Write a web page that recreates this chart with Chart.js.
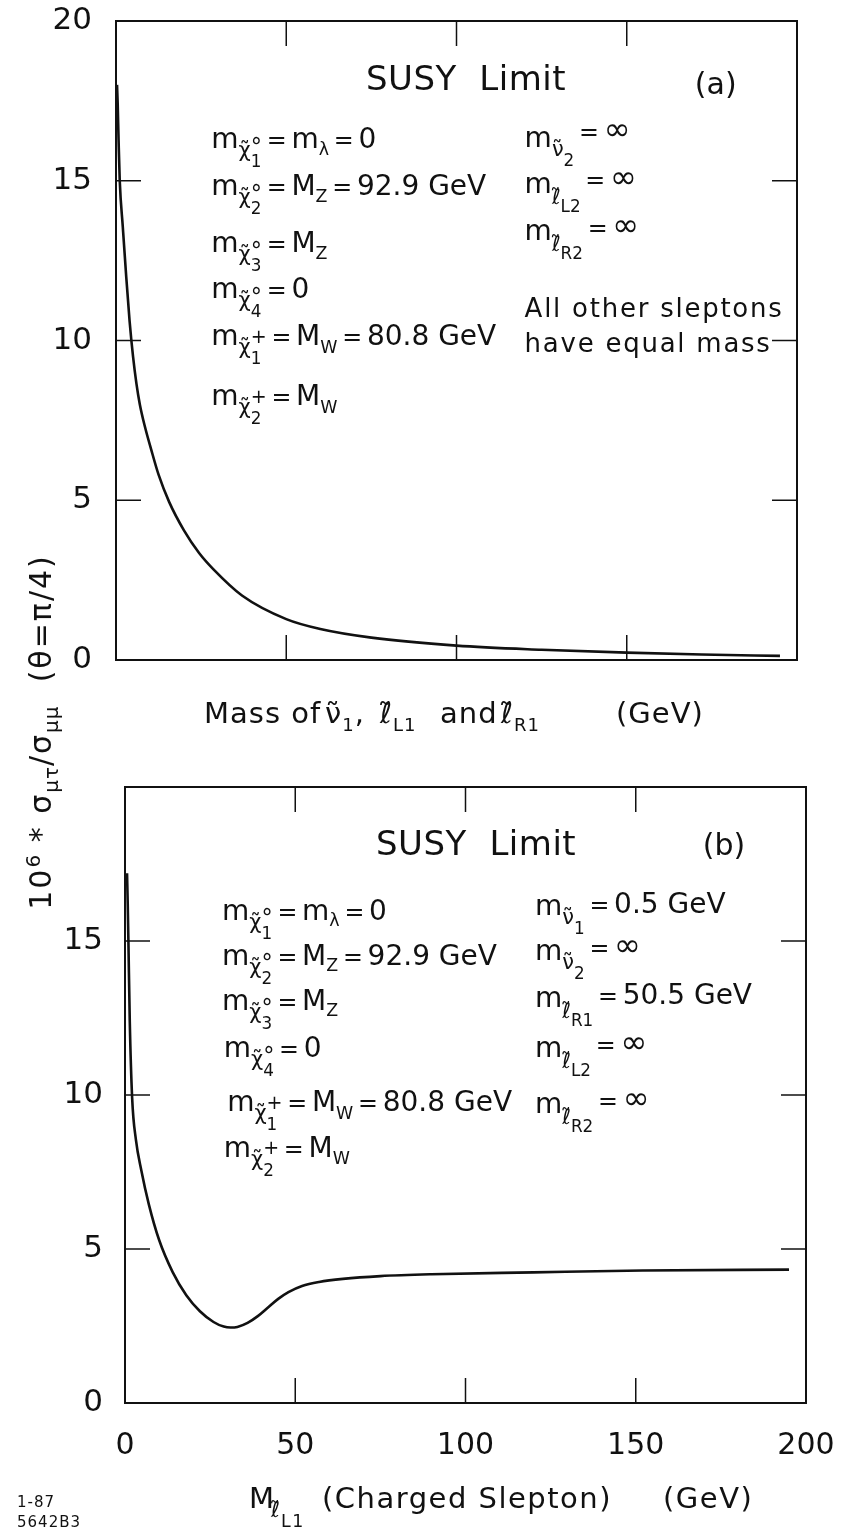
<!DOCTYPE html>
<html>
<head>
<meta charset="utf-8">
<script src="https://cdn.jsdelivr.net/npm/chart.js@4.4.1/dist/chart.umd.min.js"></script>
<style>
html,body{margin:0;padding:0;background:#fff;}
body{width:847px;height:1529px;position:relative;overflow:hidden;font-family:'DejaVu Sans',sans-serif;color:#111;}
canvas{position:absolute;left:0;}
#c1{top:0;}
#c2{top:760px;}
#ytitle{position:absolute;width:440px;height:40px;line-height:40px;left:-187px;top:712px;text-align:center;white-space:nowrap;font-size:30px;letter-spacing:2px;transform:rotate(-90deg);transform-origin:50% 50%;}
#ytitle sub,#ytitle sup{font-size:20px;letter-spacing:1px;}
#stamp{position:absolute;left:17px;top:1492px;font-size:15px;line-height:20px;letter-spacing:1px;}
</style>
</head>
<body>
<canvas id="c1" width="847" height="760" style="width:847px;height:760px"></canvas>
<canvas id="c2" width="847" height="769" style="width:847px;height:769px"></canvas>
<div id="ytitle">10<sup>6</sup> * σ<sub>μτ</sub>/σ<sub>μμ</sub>&nbsp;&nbsp;(θ=π/4)</div>
<div id="stamp">1-87<br>5642B3</div>
<script>
// ---------- data ----------
// (a) mass of sneutrino / sleptons (GeV) vs 10^6 * sigma_mutau / sigma_mumu
const massA  = [0.3, 0.5, 0.75, 1.1, 2.0, 3.0, 4.0, 5.0, 6.0, 7.0, 8.5, 10.3, 12.5, 15.6, 20, 24.4, 28.7, 37, 50, 60, 75, 100, 125, 150, 172, 195];
const ratioA = [18.0, 17.4, 16.3, 15.0, 13.55, 12.0, 10.6, 9.5, 8.65, 8.0, 7.3, 6.6, 5.8, 4.95, 4.05, 3.35, 2.83, 2.02, 1.28, 0.97, 0.7, 0.45, 0.32, 0.23, 0.17, 0.13];
// (b) charged slepton mass (GeV) vs ratio
const massB  = [0.6, 0.8, 1.0, 1.4, 2.1, 3.2, 4.8, 7, 10, 14, 18, 22, 26, 29, 31, 33, 36, 39, 42, 45, 48, 52, 57, 64, 75, 90, 120, 152, 195];
const ratioB = [17.2, 16.2, 15.0, 12.4, 9.9, 8.55, 7.55, 6.45, 5.3, 4.25, 3.5, 2.98, 2.63, 2.48, 2.45, 2.47, 2.6, 2.82, 3.1, 3.38, 3.6, 3.8, 3.93, 4.03, 4.12, 4.18, 4.24, 4.3, 4.33];
// axes
const xTickValues = [0, 50, 100, 150, 200];
const xTickLabels = ['0', '50', '100', '150', '200'];
const yTicksA     = [0, 5, 10, 15, 20];
const yTicksB     = [0, 5, 10, 15];
const xMarks      = [50, 100, 150];
const yMarks      = [5, 10, 15];

const FONT = "'DejaVu Sans', sans-serif";

// ---------- rich text helper: parts = [text, sizeScale, dy, mode, absX] ----------
function drawRich(ctx, x, y, parts, base, ls, f){
  f = f || 1;
  let cx = x, last = x;
  ctx.letterSpacing = (ls || 0) + 'px';
  for (const p of parts){
    const t = p[0], k = p[1] ?? 1, dy = p[2] ?? 0, mode = p[3] || '', ax = p[4];
    ctx.font = (base*k).toFixed(1) + 'px ' + FONT;
    let sx = mode === 'stack' ? last : cx;
    if (typeof ax === 'number') sx = x + ax;
    ctx.fillText(t, sx, y + dy*f);
    const w = ctx.measureText(t).width;
    if (mode === 'stack') cx = Math.max(cx, sx + w);
    else { last = sx; cx = sx + w; }
  }
  ctx.letterSpacing = '0px';
  return cx;
}
const CHI = '\u03C7\u0303', NU = '\u03BD\u0303', ELL = '\u2113\u0303', TS = '\u2009';
const EQ  = [TS + '=' + TS, .85, 0];
const EQr = d => [TS + '=' + TS, .85, d];
const chi0 = n => [['m'], [CHI, .75, 8], ['°', .8, 5], [n, .6, 17, 'stack']];
const chiP = n => [['m'], [CHI, .75, 8], ['+', .68, -2], [n, .6, 17, 'stack']];
const mNu  = n => [['m'], [NU, .75, 8], [n, .6, 17]];
const mEll = n => [['m'], [ELL, .75, 10], [n, .6, 17]];
const MZ = [['M'], ['Z', .62, 6]];
const MW = [['M'], ['W', .62, 7]];
const INF = d => [EQr(d), ['∞', 1.15, d]];

const notesA = [
  {x: 73.4, y: 17.84, s: 34, ls: 0.5, parts: [['SUSY  Limit']]},
  {x: 170, y: 17.7, s: 30, parts: [['(a)']]},
  {x: 28, y: 16.02, parts: [...chi0('1'), EQ, ['m'], ['λ', .62, 6], EQ, ['0']]},
  {x: 28, y: 14.55, parts: [...chi0('2'), EQ, ...MZ, EQ, ['92.9 GeV']]},
  {x: 28, y: 12.77, parts: [...chi0('3'), EQ, ...MZ]},
  {x: 28, y: 11.33, parts: [...chi0('4'), EQ, ['0']]},
  {x: 28, y: 9.86,  parts: [...chiP('1'), EQ, ...MW, EQ, ['80.8 GeV']]},
  {x: 28, y: 7.98,  parts: [...chiP('2'), EQ, ...MW]},
  {x: 120, y: 16.06, parts: [...mNu('2'), ...INF(-6)]},
  {x: 120, y: 14.62, parts: [...mEll('L2'), ...INF(-4)]},
  {x: 120, y: 13.15, parts: [...mEll('R2'), ...INF(-3)]},
  {x: 120, y: 10.74, s: 26, ls: 1.75, parts: [['All other sleptons']]},
  {x: 120, y: 9.64,  s: 26, ls: 1.75, parts: [['have equal mass']]}
];
const notesB = [
  {x: 73.7, y: 17.8, s: 34, ls: 0.5, parts: [['SUSY  Limit']]},
  {x: 169.7, y: 17.8, s: 30, parts: [['(b)']]},
  {x: 28.5, y: 15.69, parts: [...chi0('1'), EQ, ['m'], ['λ', .62, 6], EQ, ['0']]},
  {x: 28.5, y: 14.23, parts: [...chi0('2'), EQ, ...MZ, EQ, ['92.9 GeV']]},
  {x: 28.5, y: 12.77, parts: [...chi0('3'), EQ, ...MZ]},
  {x: 29, y: 11.22,   parts: [...chi0('4'), EQ, ['0']]},
  {x: 30, y: 9.47,    parts: [...chiP('1'), EQ, ...MW, EQ, ['80.8 GeV']]},
  {x: 29, y: 8.0,     parts: [...chiP('2'), EQ, ...MW]},
  {x: 120.4, y: 15.85, parts: [...mNu('1'), EQr(-2), ['0.5 GeV', 1, -2]]},
  {x: 120.4, y: 14.39, parts: [...mNu('2'), ...INF(-3)]},
  {x: 120.4, y: 12.87, parts: [...mEll('R1'), EQr(-2), ['50.5 GeV', 1, -2]]},
  {x: 120.4, y: 11.25, parts: [...mEll('L2'), ...INF(-3)]},
  {x: 120.4, y: 9.43,  parts: [...mEll('R2'), ...INF(-3)]}
];

const framePlugin = {
  id: 'frame',
  afterDraw(chart, args, opts){
    const {ctx, chartArea: a, scales: {x, y}} = chart;
    ctx.save();
    ctx.strokeStyle = '#111';
    ctx.fillStyle = '#111';
    ctx.lineWidth = 2;
    ctx.strokeRect(a.left, a.top, a.right - a.left, a.bottom - a.top);
    ctx.lineWidth = 1.5;
    const L = 25;
    const seg = (x1, y1, x2, y2) => { ctx.beginPath(); ctx.moveTo(x1, y1); ctx.lineTo(x2, y2); ctx.stroke(); };
    for (const v of xMarks){ const px = x.getPixelForValue(v); seg(px, a.bottom, px, a.bottom - L); seg(px, a.top, px, a.top + L); }
    for (const v of yMarks){ const py = y.getPixelForValue(v); seg(a.left, py, a.left + L, py); seg(a.right, py, a.right - L, py); }
    ctx.textBaseline = 'alphabetic';
    ctx.textAlign = 'left';
    for (const n of opts.notes){
      const base = n.s || 28;
      drawRich(ctx, x.getPixelForValue(n.x), y.getPixelForValue(n.y), n.parts, base, n.ls || 0, base / 25);
    }
    const t = opts.title;
    drawRich(ctx, a.left + t.dx, a.bottom + t.dy, t.parts, t.s, t.ls, 1);
    ctx.restore();
  }
};

function makeChart(id, mass, ratio, o){
  return new Chart(document.getElementById(id), {
    type: 'scatter',
    data: {datasets: [{
      data: mass.map((m, i) => ({x: m, y: ratio[i]})),
      showLine: true, borderColor: '#111', borderWidth: 2.6, pointRadius: 0,
      cubicInterpolationMode: 'monotone', fill: false
    }]},
    options: {
      responsive: false, animation: false, devicePixelRatio: 1,
      layout: {padding: o.padding},
      plugins: {legend: {display: false}, tooltip: {enabled: false},
                frame: {notes: o.notes, title: o.title}},
      scales: {
        x: {type: 'linear', min: 0, max: 200,
            grid: {display: false, drawTicks: false}, border: {display: false},
            ticks: {display: o.xLabels, font: {size: 30, family: FONT}, color: '#111', padding: 25,
                    maxRotation: 0, autoSkip: false,
                    callback: v => { const i = xTickValues.indexOf(v); return i < 0 ? '' : xTickLabels[i]; }},
            afterBuildTicks: s => { s.ticks = xTickValues.map(v => ({value: v})); },
            afterFit: s => { s.height = o.xHeight; s.paddingLeft = 0; s.paddingRight = 0; }},
        y: {type: 'linear', min: 0, max: 20,
            grid: {display: false, drawTicks: false}, border: {display: false},
            ticks: {font: {size: 31, family: FONT}, color: '#111', padding: o.yPad, autoSkip: false, callback: v => String(v)},
            afterBuildTicks: s => { s.ticks = o.yTicks.map(v => ({value: v})); },
            afterFit: s => { s.width = o.yWidth; s.paddingTop = 0; s.paddingBottom = 0; }}
      }
    },
    plugins: [framePlugin]
  });
}

makeChart('c1', massA, ratioA, {
  padding: {left: 0, top: 21, right: 50, bottom: 0},
  xHeight: 100, yWidth: 116, yPad: 24, yTicks: yTicksA, xLabels: false, notes: notesA,
  title: {dx: 88, dy: 63, s: 29, ls: 1, parts: [['Mass of', 1, 0, '', 0], [NU, 1, 0, '', 121], ['1', .62, 8], [','], [ELL, 1, 0, '', 176], ['L1', .62, 8], ['and', 1, 0, '', 236], [ELL, 1, 0, '', 297], ['R1', .62, 8], ['(GeV)', 1, 0, '', 412]]}
});
makeChart('c2', massB, ratioB, {
  padding: {left: 0, top: 27, right: 41, bottom: 0},
  xHeight: 126, yWidth: 125, yPad: 22, yTicks: yTicksB, xLabels: true, notes: notesB,
  title: {dx: 124, dy: 105, s: 29, ls: 1.5, parts: [['M', 1, 0, '', 0], [ELL, .75, 9, '', 22], ['L1', .6, 19, '', 32], ['(Charged Slepton)', 1, 0, '', 73], ['(GeV)', 1, 0, '', 414]]}
});
</script>
</body>
</html>
